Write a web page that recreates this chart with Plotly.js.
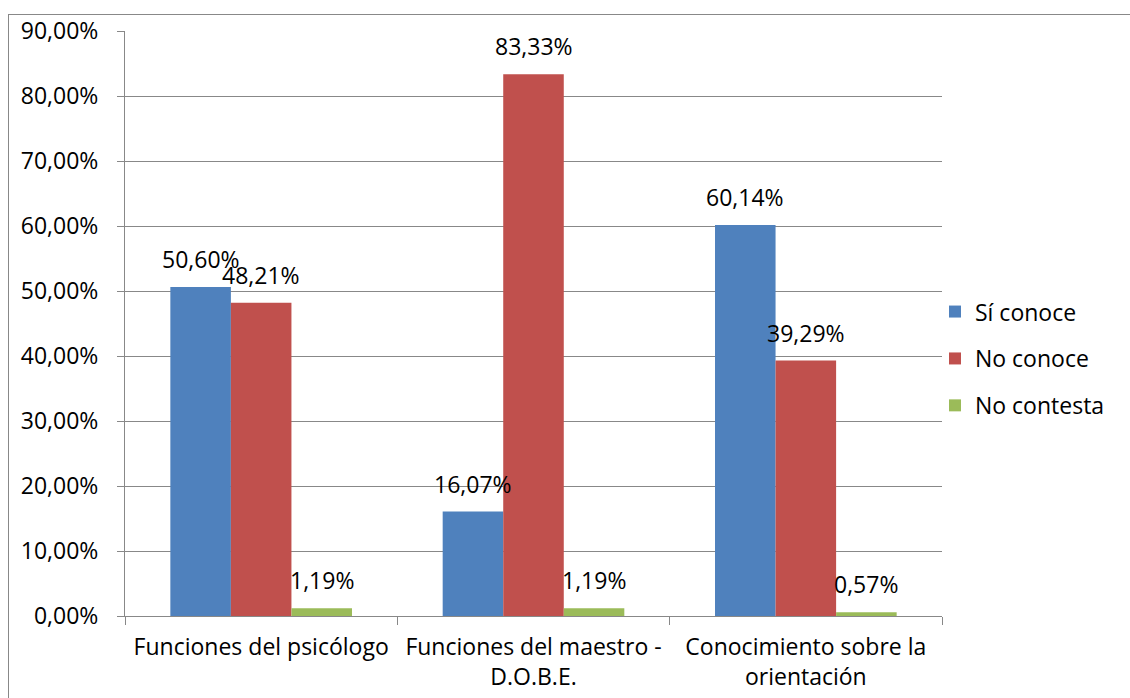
<!DOCTYPE html>
<html>
<head>
<meta charset="utf-8">
<script src="https://cdn.plot.ly/plotly-3.0.1.min.js"></script>
<style>
  html, body { margin: 0; padding: 0; background: #fff; }
  #wrap { position: relative; width: 1130px; height: 698px; }
  #frame { position: absolute; left: 8px; top: 14px; width: 1130px; height: 700px;
           border-left: 1px solid #888; border-top: 1px solid #888; box-sizing: border-box; }
  #chart { position: absolute; left: 0; top: 0; width: 1130px; height: 698px; }
</style>
</head>
<body>
<div id="wrap">
  <div id="frame"></div>
  <div id="chart"></div>
</div>
<script>
const categories = ["Funciones del psicólogo", "Funciones del maestro -<br>D.O.B.E.", "Conocimiento sobre la<br>orientación"];
const seriesNames = ["Sí conoce", "No conoce", "No contesta"];
const siConoce = [0.5060, 0.1607, 0.6014];
const noConoce = [0.4821, 0.8333, 0.3929];
const noContesta = [0.0119, 0.0119, 0.0057];
const colors = ["#4F81BD", "#C0504D", "#9BBB59"];
const yTicks = [0, 0.1, 0.2, 0.3, 0.4, 0.5, 0.6, 0.7, 0.8, 0.9];

const series = [siConoce, noConoce, noContesta];
const font = "'Open Sans', sans-serif";
const fs = 23;

const traces = series.map((vals, i) => ({
  type: "bar",
  name: seriesNames[i],
  x: categories,
  y: vals,
  marker: { color: colors[i], line: { width: 0 } },
  legendgroup: "g" + i,
  hoverinfo: "skip"
}));

const fmt = v => (v * 100).toFixed(2).replace(".", ",") + "%";
const annotations = [];
series.forEach((vals, i) => {
  vals.forEach((v, j) => {
    annotations.push({
      x: categories[j], y: v, xref: "x", yref: "y",
      text: fmt(v), showarrow: false,
      xshift: (i - 1) * 60.5, yshift: 28, yanchor: "middle",
      font: { family: font, size: fs, color: "#000" }
    });
  });
});

const layout = {
  width: 1130, height: 698,
  margin: { l: 125, r: 188, t: 31, b: 82, pad: 0 },
  paper_bgcolor: "rgba(0,0,0,0)",
  plot_bgcolor: "rgba(0,0,0,0)",
  separators: ",.",
  barmode: "group",
  bargap: 0.333,
  bargroupgap: 0,
  font: { family: font, size: fs, color: "#000" },
  xaxis: {
    type: "category",
    showline: true, linecolor: "#888", linewidth: 1,
    ticks: "outside", tickson: "boundaries", ticklen: 8, tickcolor: "#888",
    ticklabelstandoff: 10,
    showgrid: false, zeroline: false,
    tickfont: { family: font, size: fs, color: "#000" }
  },
  yaxis: {
    range: [0, 0.9],
    tickvals: yTicks,
    tickformat: ".2%",
    showline: true, linecolor: "#888", linewidth: 1,
    ticks: "outside", ticklen: 7, tickcolor: "#888",
    ticklabelstandoff: 14,
    showgrid: true, gridcolor: "#888", gridwidth: 1,
    zeroline: false,
    tickfont: { family: font, size: fs, color: "#000" }
  },
  showlegend: true,
  legend: {
    x: 0.9914, xanchor: "left", y: 0.44, yanchor: "middle",
    font: { family: font, size: fs, color: "#000" },
    tracegroupgap: 14,
    itemwidth: 30,
    bgcolor: "rgba(0,0,0,0)"
  },
  annotations: annotations
};

Plotly.newPlot("chart", traces, layout, { displayModeBar: false, staticPlot: true });
</script>
</body>
</html>
